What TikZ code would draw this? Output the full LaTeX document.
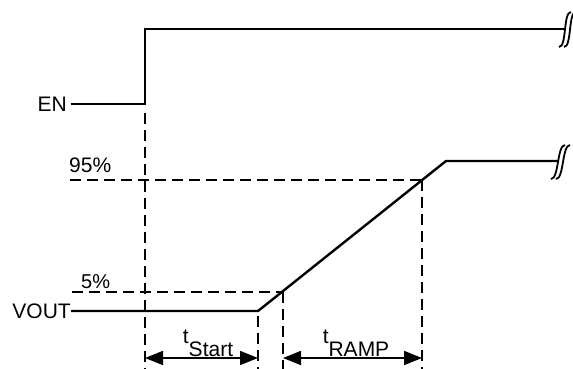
\documentclass[tikz,border=0pt]{standalone}
\usepackage{fontspec}
\setmainfont{Liberation Sans}
\usetikzlibrary{arrows.meta}
\begin{document}
\begin{tikzpicture}[x=1pt,y=-1pt,
  sig/.style={line width=2.4pt},
  guide/.style={line width=2.4pt,dash pattern=on 11pt off 6pt},
  dim/.style={line width=1.6pt,{Triangle[length=18pt,width=14pt]}-{Triangle[length=18pt,width=14pt]}},
  brk/.style={line width=1.8pt},
  lbl/.style={inner sep=0pt,font=\fontsize{21}{25}\selectfont}]
\useasboundingbox (0,0) rectangle (573,369);
% labels
\node[lbl,anchor=east] (en) at (67,104) {EN};
\node[lbl,anchor=east] (vout) at (71,311) {VOUT};
\node[lbl,anchor=base west] (p95) at (69,172) {95\%};
\node[lbl,anchor=base west,font=\fontsize{20}{24}\selectfont] (p5) at (81,288) {5\%};
\node[lbl,anchor=south] (tstart) at (208,357) {t\raisebox{-13pt}{Start}};
\node[lbl,anchor=south] (tramp) at (356,357) {t\raisebox{-13pt}{RAMP}};
% coordinates
\coordinate (enA) at (71,104);
\coordinate (enB) at (145,104);
\coordinate (enC) at (145,29);
\coordinate (enD) at (566,29);
\coordinate (vA) at (71,311);
\coordinate (vB) at (258,311);
\coordinate (vK) at (283,292);
\coordinate (vH) at (422,180);
\coordinate (vC) at (446,161);
\coordinate (vD) at (558,161);
\coordinate (g95) at (70,180);
\coordinate (g5) at (72,292);
\coordinate (d1t) at (145,113);
\coordinate (d1b) at (145,369);
\coordinate (d2t) at (258,316);
\coordinate (d2b) at (258,369);
\coordinate (d3b) at (283,369);
\coordinate (d4b) at (422,369);
\coordinate (a1) at (145,358);
\coordinate (a2) at (258,358);
\coordinate (a3) at (283,358);
\coordinate (a4) at (422,358);
% signals
\draw[sig] (enA) -- (enB) -- (enC) -- (enD);
\draw[sig] (vA) -- (vB) -- (vC) -- (vD);
% guides
\draw[guide] (g95) -- (vH);
\draw[guide] (g5) -- (vK);
\draw[guide] (d1t) -- (d1b);
\draw[guide] (d2t) -- (d2b);
\draw[guide] (vK) -- (d3b);
\draw[guide] (vH) -- (d4b);
% dimension arrows
\draw[dim] (a1) -- (a2);
\draw[dim] (a3) -- (a4);
% break marks
\draw[brk] (559,47) .. controls (567,47) and (563,12) .. (571,12);
\draw[brk] (564,47) .. controls (572,47) and (568,12) .. (576,12);
\draw[brk] (551,179) .. controls (559,179) and (557,145) .. (565,145);
\draw[brk] (556,179) .. controls (564,179) and (562,145) .. (570,145);
\end{tikzpicture}
\end{document}
